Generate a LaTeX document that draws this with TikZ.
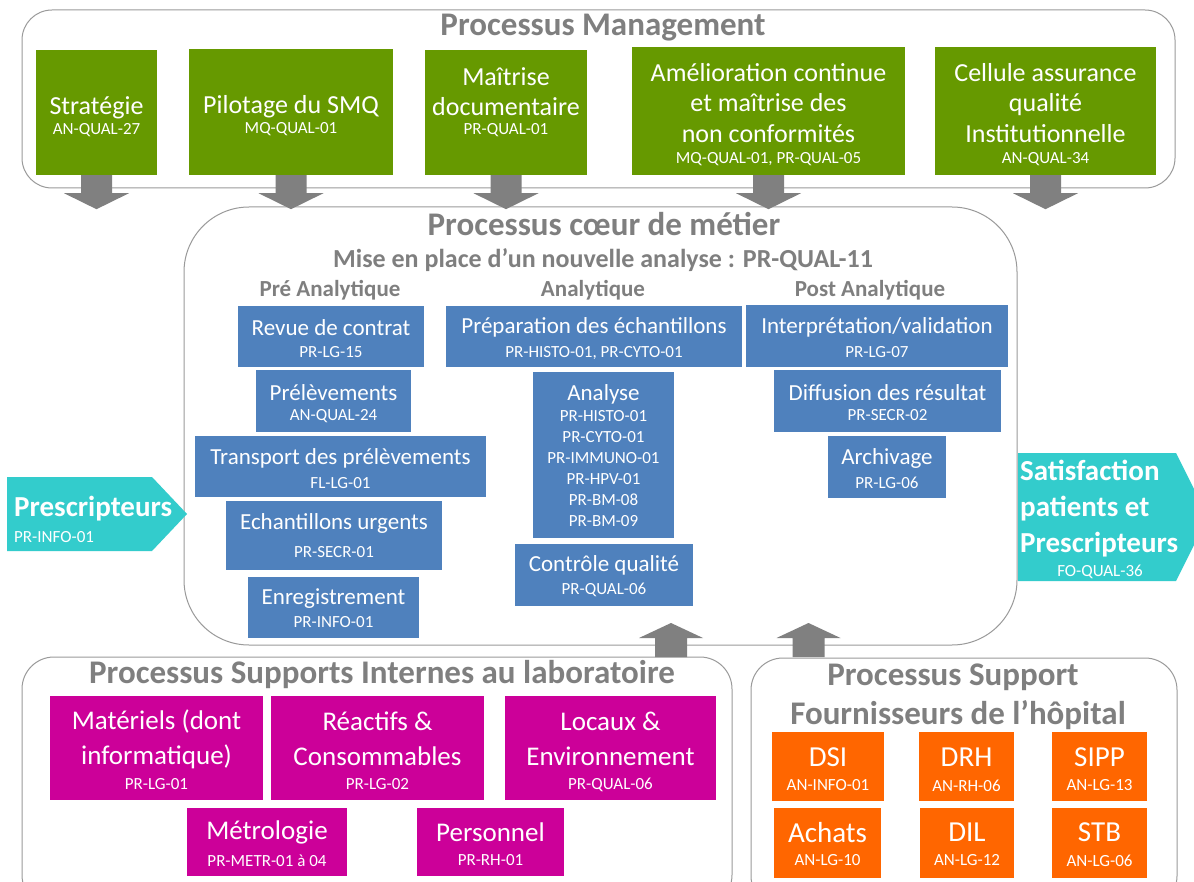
\documentclass[tikz,border=0pt]{standalone}
\usepackage{fontspec}
\setmainfont{Carlito}
\usetikzlibrary{calc}
\definecolor{ttl}{HTML}{7F7F7F}
\definecolor{grn}{HTML}{669900}
\definecolor{blu}{HTML}{4F81BD}
\definecolor{cya}{HTML}{33CCCC}
\definecolor{mag}{HTML}{CC0099}
\definecolor{org}{HTML}{FF6600}
\definecolor{arr}{HTML}{808080}
\definecolor{brd}{HTML}{9A9A9A}
\newcommand\fHead{\fontsize{33}{38}\selectfont\bfseries}
\newcommand\fSub{\fontsize{26}{30}\selectfont\bfseries}
\newcommand\fCol{\fontsize{23}{27}\selectfont\bfseries}
\newcommand\fGm{\fontsize{26}{30.5}\selectfont}
\newcommand\fCode{\fontsize{17}{20}\selectfont}
\newcommand\fBm{\fontsize{23}{27}\selectfont}
\newcommand\fAna{\fontsize{17}{21}\selectfont}
\newcommand\fCy{\fontsize{29}{36}\selectfont\bfseries}
\newcommand\fMm{\fontsize{27}{35}\selectfont}
\newcommand\fOm{\fontsize{29}{34}\selectfont}
\tikzset{
  cont/.style={draw=brd, line width=1pt, inner sep=0pt},
  gbox/.style={fill=grn, inner sep=0pt},
  bbox/.style={fill=blu, inner sep=0pt},
  mbox/.style={fill=mag, inner sep=0pt},
  obox/.style={fill=org, inner sep=0pt},
  wt/.style={text=white, align=center, inner sep=0pt, yshift=-2.5pt},
  ht/.style={text=ttl, inner sep=0pt, align=center, yshift=-2.5pt},
  cyt/.style={text=white, inner sep=0pt, yshift=-2pt},
  arrowfill/.style={fill=arr},
  cyanfill/.style={fill=cya},
}
\newcommand\blockdown[1]{%
  \fill[arrowfill] ($(#1.south)+(-15.5,0)$) -- ++(0,18) -- ++(-17,0)
    -- ($(#1.south)+(0,34)$) -- ($(#1.south)+(32.5,18)$) -- ++(-17,0)
    -- ($(#1.south)+(15.5,0)$) -- cycle;}
\newcommand\blockup[1]{%
  \fill[arrowfill] ($(#1)+(-16,0)$) -- ++(0,-19) -- ++(-16,0)
    -- ($(#1)+(0,-34)$) -- ($(#1)+(32,-19)$) -- ++(-16,0)
    -- ($(#1)+(16,0)$) -- cycle;}
\begin{document}
\begin{tikzpicture}[x=1pt,y=-1pt]
\path[use as bounding box] (0,0) rectangle (1194,882);
\clip (0,0) rectangle (1194,882);
\fill[white] (0,0) rectangle (1194,882);

% containers
\node[cont, rounded corners=30, minimum width=1153, minimum height=178] (mgmt) at (598.5,99) {};
\node[cont, rounded corners=65, minimum width=833, minimum height=438] (core) at (600.5,426) {};
\node[cont, rounded corners=32, minimum width=710, minimum height=250] (lab) at (377,782) {};
\node[cont, rounded corners=32, minimum width=426, minimum height=250] (hop) at (964,783) {};

% titles
\node[ht, font=\fHead] (mgmtT) at (603,25) {Processus Management};
\node[ht, font=\fHead] (coreT) at (604,222) {Processus cœur de métier};
\node[ht, font=\fSub] (coreS) at (603,258) {Mise en place d’un nouvelle analyse : PR-QUAL-11};
\node[ht, font=\fCol] (colPre) at (330,288) {Pré Analytique};
\node[ht, font=\fCol] (colAna) at (593,288) {Analytique};
\node[ht, font=\fCol] (colPost) at (870,288) {Post Analytique};
\node[ht, font=\fHead] (labT) at (382,672) {Processus Supports Internes au laboratoire};
\node[ht, font=\fHead] (hopT1) at (953,675) {Processus Support};
\node[ht, font=\fHead] (hopT2) at (958,713) {Fournisseurs de l’hôpital};

% green boxes
\node[gbox, minimum width=121, minimum height=125] (strat) at (96.5,112.5) {};
\node[wt, font=\fGm] (stratT) at (96.5,105) {Stratégie};
\node[wt, font=\fCode] (stratC) at (96.5,128) {AN-QUAL-27};
\node[gbox, minimum width=204, minimum height=126] (pilot) at (291,112) {};
\node[wt, font=\fGm] (pilotT) at (291,104) {Pilotage du SMQ};
\node[wt, font=\fCode] (pilotC) at (291,127) {MQ-QUAL-01};
\node[gbox, minimum width=162, minimum height=125] (maitr) at (506,112.5) {};
\node[wt, font=\fGm] (maitrT) at (506,89) {Maîtrise\\documentaire};
\node[wt, font=\fCode] (maitrC) at (506,128) {PR-QUAL-01};
\node[gbox, minimum width=273, minimum height=128] (amel) at (768.5,111) {};
\node[wt, font=\fGm] (amelT) at (768.5,100.5) {Amélioration continue\\et maîtrise des\\non conformités};
\node[wt, font=\fCode] (amelC) at (768.5,157) {MQ-QUAL-01, PR-QUAL-05};
\node[gbox, minimum width=221, minimum height=128] (cell) at (1045.5,111) {};
\node[wt, font=\fGm] (cellT) at (1045.5,100.5) {Cellule assurance\\qualité\\Institutionnelle};
\node[wt, font=\fCode] (cellC) at (1045.5,157) {AN-QUAL-34};

% blue boxes
\node[bbox, minimum width=186, minimum height=61] (rev) at (331,336.5) {};
\node[wt, font=\fBm] (revT) at (331,325) {Revue de contrat};
\node[wt, font=\fCode] (revC) at (331,350) {PR-LG-15};
\node[bbox, minimum width=155, minimum height=62] (prel) at (333.5,401) {};
\node[wt, font=\fBm] (prelT) at (333.5,390) {Prélèvements};
\node[wt, font=\fCode] (prelC) at (333.5,414) {AN-QUAL-24};
\node[bbox, minimum width=291, minimum height=61] (trans) at (340.5,466.5) {};
\node[wt, font=\fBm] (transT) at (340.5,456) {Transport des prélèvements};
\node[wt, font=\fCode] (transC) at (340.5,481) {FL-LG-01};
\node[bbox, minimum width=216, minimum height=69] (urg) at (334,535.5) {};
\node[wt, font=\fBm] (urgT) at (334,521) {Echantillons urgents};
\node[wt, font=\fCode] (urgC) at (334,550) {PR-SECR-01};
\node[bbox, minimum width=171, minimum height=61] (enr) at (333.5,607.5) {};
\node[wt, font=\fBm] (enrT) at (333.5,596) {Enregistrement};
\node[wt, font=\fCode] (enrC) at (333.5,620) {PR-INFO-01};

\node[bbox, minimum width=296, minimum height=61] (prep) at (594,336.5) {};
\node[wt, font=\fBm] (prepT) at (594,325) {Préparation des échantillons};
\node[wt, font=\fCode] (prepC) at (594,351) {PR-HISTO-01, PR-CYTO-01};
\node[bbox, minimum width=141, minimum height=166] (ana) at (603.5,455) {};
\node[wt, font=\fBm] (anaT) at (603.5,392) {Analyse};
\node[wt, font=\fAna] (anaC) at (603.5,466.5) {PR-HISTO-01\\PR-CYTO-01\\PR-IMMUNO-01\\PR-HPV-01\\PR-BM-08\\PR-BM-09};
\node[bbox, minimum width=178, minimum height=62] (cq) at (604,575) {};
\node[wt, font=\fBm] (cqT) at (604,563) {Contrôle qualité};
\node[wt, font=\fCode] (cqC) at (604,587) {PR-QUAL-06};

\node[bbox, minimum width=262, minimum height=62] (interp) at (877,336) {};
\node[wt, font=\fBm] (interpT) at (877,325) {Interprétation/validation};
\node[wt, font=\fCode] (interpC) at (877,350) {PR-LG-07};
\node[bbox, minimum width=227, minimum height=62] (diff) at (887.5,401) {};
\node[wt, font=\fBm] (diffT) at (887.5,390) {Diffusion des résultat};
\node[wt, font=\fCode] (diffC) at (887.5,413) {PR-SECR-02};
\node[bbox, minimum width=118, minimum height=62] (arch) at (887,467) {};
\node[wt, font=\fBm] (archT) at (887,456) {Archivage};
\node[wt, font=\fCode] (archC) at (887,480) {PR-LG-06};

% cyan arrows
\fill[cyanfill] (7,477) -- (152,477) -- (187,514) -- (152,551) -- (7,551) -- cycle;
\node[cyt, anchor=west, font=\fCy] (prescT) at (14,507) {Prescripteurs};
\node[cyt, anchor=west, font=\fCode] (prescC) at (14,535) {PR-INFO-01};
\fill[cyanfill] (1018,453) -- (1176,453) -- (1208,517) -- (1176,581) -- (1018,581) -- cycle;
\node[cyt, anchor=west, align=left, font=\fCy] (satT) at (1020,507) {Satisfaction\\patients et\\Prescripteurs};
\node[cyt, font=\fCode] (satC) at (1100,570) {FO-QUAL-36};

% magenta boxes
\node[mbox, minimum width=213, minimum height=104] (mat) at (156.5,748) {};
\node[wt, font=\fMm] (matT) at (156.5,736.5) {Matériels (dont\\informatique)};
\node[wt, font=\fCode] (matC) at (156.5,782) {PR-LG-01};
\node[mbox, minimum width=213, minimum height=104] (rea) at (377.5,748) {};
\node[wt, font=\fMm] (reaT) at (377.5,736.5) {Réactifs \&\\Consommables};
\node[wt, font=\fCode] (reaC) at (377.5,782) {PR-LG-02};
\node[mbox, minimum width=211, minimum height=104] (loc) at (610.5,748) {};
\node[wt, font=\fMm] (locT) at (610.5,736.5) {Locaux \&\\Environnement};
\node[wt, font=\fCode] (locC) at (610.5,782) {PR-QUAL-06};
\node[mbox, minimum width=160, minimum height=68] (metr) at (267,842) {};
\node[wt, font=\fMm] (metrT) at (267,830) {Métrologie};
\node[wt, font=\fCode] (metrC) at (267,858) {PR-METR-01 à 04};
\node[mbox, minimum width=147, minimum height=68] (pers) at (490.5,842) {};
\node[wt, font=\fMm] (persT) at (490.5,830) {Personnel};
\node[wt, font=\fCode] (persC) at (490.5,858) {PR-RH-01};

% orange boxes
\node[obox, minimum width=112, minimum height=69] (dsi) at (828,766.5) {};
\node[wt, font=\fOm] (dsiT) at (828,755) {DSI};
\node[wt, font=\fCode] (dsiC) at (828,783) {AN-INFO-01};
\node[obox, minimum width=95, minimum height=69] (drh) at (966.5,766.5) {};
\node[wt, font=\fOm] (drhT) at (966.5,755) {DRH};
\node[wt, font=\fCode] (drhC) at (966.5,783) {AN-RH-06};
\node[obox, minimum width=95, minimum height=69] (sipp) at (1099.5,766.5) {};
\node[wt, font=\fOm] (sippT) at (1099.5,755) {SIPP};
\node[wt, font=\fCode] (sippC) at (1099.5,783) {AN-LG-13};
\node[obox, minimum width=107, minimum height=70] (ach) at (827.5,843) {};
\node[wt, font=\fOm] (achT) at (827.5,830) {Achats};
\node[wt, font=\fCode] (achC) at (827.5,858) {AN-LG-10};
\node[obox, minimum width=94, minimum height=70] (dil) at (967,843) {};
\node[wt, font=\fOm] (dilT) at (967,830) {DIL};
\node[wt, font=\fCode] (dilC) at (967,858) {AN-LG-12};
\node[obox, minimum width=95, minimum height=70] (stb) at (1099.5,843) {};
\node[wt, font=\fOm] (stbT) at (1099.5,830) {STB};
\node[wt, font=\fCode] (stbC) at (1099.5,858) {AN-LG-06};

% block arrows
\blockdown{strat}
\blockdown{pilot}
\blockdown{maitr}
\blockdown{amel}
\blockdown{cell}
\coordinate (upA) at (671,657);
\coordinate (upB) at (808.5,657);
\blockup{upA}
\blockup{upB}
\end{tikzpicture}
\end{document}
